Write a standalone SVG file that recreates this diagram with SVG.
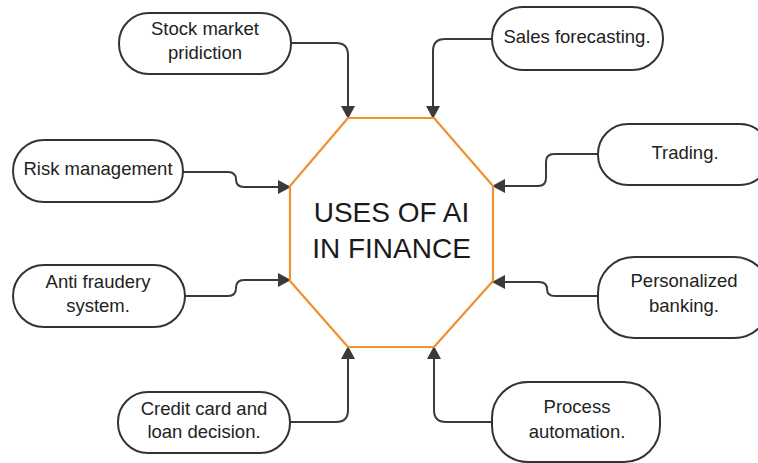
<svg xmlns="http://www.w3.org/2000/svg" width="758" height="463" viewBox="0 0 758 463">
  <defs>
    <marker id="arrow" viewBox="0 0 13 14" markerWidth="13" markerHeight="14" refX="12" refY="7" orient="auto" markerUnits="userSpaceOnUse">
      <path d="M0,0 L13,7 L0,14 z" fill="#3a3a3a"/>
    </marker>
    <style>
      .box { fill: #ffffff; stroke: #333333; stroke-width: 2; }
      .lbl { font-family: "Liberation Sans", Arial, sans-serif; font-size: 18.5px; fill: #222222; text-anchor: middle; }
      .title { font-family: "Liberation Sans", Arial, sans-serif; font-size: 28px; fill: #1a1a1a; text-anchor: middle; }
      .link { fill: none; stroke: #3a3a3a; stroke-width: 2; marker-end: url(#arrow); }
      .hub { fill: #ffffff; stroke: #f0902f; stroke-width: 2.2; stroke-linejoin: round; }
    </style>
  </defs>
  <rect width="758" height="463" fill="#ffffff"/>

  <!-- connectors into the central octagon -->
  <g id="connectors">
    <path class="link" d="M291,43 H336 Q348,43 348,55 V118"/>
    <path class="link" d="M492,39 H445 Q433,39 433,51 V118"/>
    <path class="link" d="M183,172 H228 Q236,172 236,179.5 Q236,187 244,187 H290"/>
    <path class="link" d="M185,296 H228 Q236,296 236,288 Q236,280 244,280 H290"/>
    <path class="link" d="M598,154 H554 Q546,154 546,162 V178 Q546,186 538,186 H493"/>
    <path class="link" d="M598,296 H555 Q547,296 547,289 Q547,282 539,282 H493"/>
    <path class="link" d="M290,422 H336 Q348,422 348,410 V347"/>
    <path class="link" d="M492,422 H446 Q434,422 434,410 V347"/>
  </g>

  <g id="hub">
    <polygon class="hub" points="348,118 434,118 493,186 493,281 434,347 348,347 290,281 290,186"/>
    <text class="title" x="391.5" y="222">USES OF AI</text>
    <text class="title" x="391.5" y="258">IN FINANCE</text>
  </g>

  <g id="stock-market">
    <rect class="box" x="119" y="13" width="172" height="61" rx="30" ry="30"/>
    <text class="lbl" x="205" y="35">Stock market</text>
    <text class="lbl" x="205" y="59">pridiction</text>
  </g>

  <g id="sales-forecasting">
    <rect class="box" x="492" y="7" width="171" height="63" rx="31" ry="31"/>
    <text class="lbl" x="577" y="43">Sales forecasting.</text>
  </g>

  <g id="risk-management">
    <rect class="box" x="13" y="140" width="170" height="62" rx="31" ry="31"/>
    <text class="lbl" x="98" y="175">Risk management</text>
  </g>

  <g id="trading">
    <rect class="box" x="598" y="124" width="172" height="61" rx="30" ry="30"/>
    <text class="lbl" x="685" y="159">Trading.</text>
  </g>

  <g id="anti-fraud">
    <rect class="box" x="13" y="265" width="172" height="62" rx="31" ry="31"/>
    <text class="lbl" x="98" y="288">Anti fraudery</text>
    <text class="lbl" x="98" y="312">system.</text>
  </g>

  <g id="personalized-banking">
    <rect class="box" x="598" y="257" width="172" height="81" rx="36" ry="36"/>
    <text class="lbl" x="684" y="287">Personalized</text>
    <text class="lbl" x="684" y="312">banking.</text>
  </g>

  <g id="credit-loan">
    <rect class="box" x="118" y="392" width="172" height="61" rx="30" ry="30"/>
    <text class="lbl" x="204" y="415">Credit card and</text>
    <text class="lbl" x="204" y="438">loan decision.</text>
  </g>

  <g id="process-automation">
    <rect class="box" x="492" y="382" width="168" height="80" rx="36" ry="36"/>
    <text class="lbl" x="577" y="413">Process</text>
    <text class="lbl" x="577" y="438">automation.</text>
  </g>
</svg>
